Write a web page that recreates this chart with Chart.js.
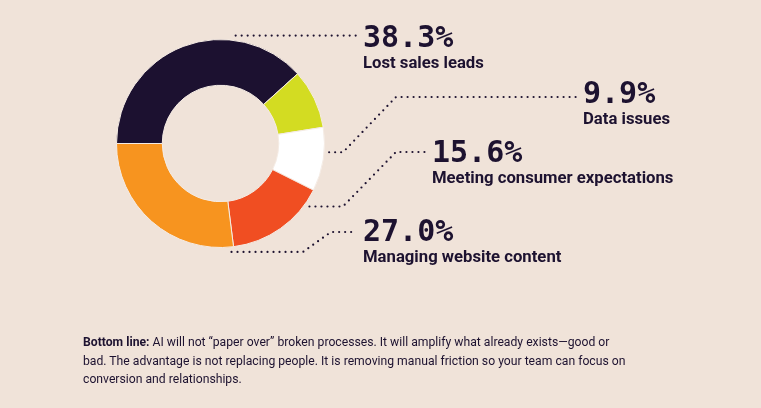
<!DOCTYPE html>
<html>
<head>
<meta charset="utf-8">
<script src="https://cdn.jsdelivr.net/npm/chart.js@4.4.1/dist/chart.umd.min.js"></script>
<style>
  html, body { margin: 0; padding: 0; background: #f0e3d9; }
  #wrap { position: relative; width: 761px; height: 408px; overflow: hidden; background: #f0e3d9; color: #1d1230; }
  #chart { position: absolute; left: 0; top: 0; }
  .num { position: absolute; font-family: "DejaVu Sans Mono", monospace; font-weight: bold; font-size: 30px; line-height: 30px; white-space: nowrap; }
  .lbl { position: absolute; font-family: Roboto, sans-serif; font-weight: bold; font-size: 16.7px; line-height: 16.7px; white-space: nowrap; }
  #note { position: absolute; left: 83px; top: 333px; font-family: Roboto, sans-serif; font-size: 12.2px; line-height: 18.5px; white-space: nowrap; }
  #note b { font-weight: bold; }
</style>
</head>
<body>
<div id="wrap">
  <canvas id="chart" width="761" height="408"></canvas>
  <div id="labels"></div>
  <div id="note"><b>Bottom line:</b> AI will not “paper over” broken processes. It will amplify what already exists—good or<br>bad. The advantage is not replacing people. It is removing manual friction so your team can focus on<br>conversion and relationships.</div>
</div>
<script>
// datos del gráfico (en sentido horario desde las 9 en punto)
const categories = ["Lost sales leads", "Other", "Data issues", "Meeting consumer expectations", "Managing website content"];
const shares = [38.3, 9.2, 9.9, 15.6, 27.0];
const sliceColors = ["#1c1130", "#d3dc22", "#ffffff", "#f04e22", "#f7941f"];

// etiquetas con sus líneas punteadas (índice de la porción que señalan)
const callouts = [
  { slice: 0, angle: 8,     x: 363, top: 25,  bendX: null, kneeX: null, endX: 357 },
  { slice: 2, angle: 94.6,  x: 583, top: 81,  bendX: 343,  kneeX: 396,  endX: 578, lineY: 97 },
  { slice: 3, angle: 125.3, x: 432, top: 140, bendX: 343,  kneeX: 396,  endX: 428, lineY: 152 },
  { slice: 4, angle: 174.2, x: 363, top: 219, bendX: 303,  kneeX: 331,  endX: 357, lineY: 232 }
];

// crear los textos de las etiquetas
const labelBox = document.getElementById("labels");
callouts.forEach(c => {
  const n = document.createElement("div");
  n.className = "num";
  n.style.left = c.x + "px";
  n.style.top = (c.top - 3.5) + "px";
  n.textContent = shares[c.slice].toFixed(1) + "%";
  labelBox.appendChild(n);
  const l = document.createElement("div");
  l.className = "lbl";
  l.style.left = c.x + "px";
  l.style.top = (c.top + 32 - 2.2) + "px";
  l.textContent = categories[c.slice];
  labelBox.appendChild(l);
});

// plugin para dibujar las líneas punteadas
const leaderLines = {
  id: "leaderLines",
  afterDatasetsDraw(chart) {
    const ctx = chart.ctx;
    const arc = chart.getDatasetMeta(0).data[0];
    const cx = arc.x, cy = arc.y, r = arc.outerRadius + 5;
    ctx.save();
    ctx.strokeStyle = "#1d1230";
    ctx.lineWidth = 2.2;
    ctx.lineCap = "round";
    ctx.setLineDash([0, 6]);
    callouts.forEach(c => {
      const a = c.angle * Math.PI / 180;
      const sx = cx + r * Math.sin(a);
      const sy = cy - r * Math.cos(a);
      ctx.beginPath();
      ctx.moveTo(sx, sy);
      if (c.bendX === null) {
        ctx.lineTo(c.endX, sy);
      } else {
        ctx.lineTo(c.bendX, sy);
        ctx.lineTo(c.kneeX, c.lineY);
        ctx.lineTo(c.endX, c.lineY);
      }
      ctx.stroke();
    });
    ctx.restore();
  }
};

const ctx = document.getElementById("chart").getContext("2d");
const donut = new Chart(ctx, {
  type: "doughnut",
  data: {
    labels: categories,
    datasets: [{
      data: shares,
      backgroundColor: sliceColors,
      borderColor: "#f4ebe4",
      borderWidth: 1,
      hoverOffset: 0
    }]
  },
  options: {
    responsive: false,
    animation: false,
    events: [],
    rotation: -90,
    cutout: "56%",
    layout: { padding: { left: 116, top: 39, right: 436, bottom: 160 } },
    plugins: { legend: { display: false }, tooltip: { enabled: false } }
  },
  plugins: [leaderLines]
});
</script>
</body>
</html>
